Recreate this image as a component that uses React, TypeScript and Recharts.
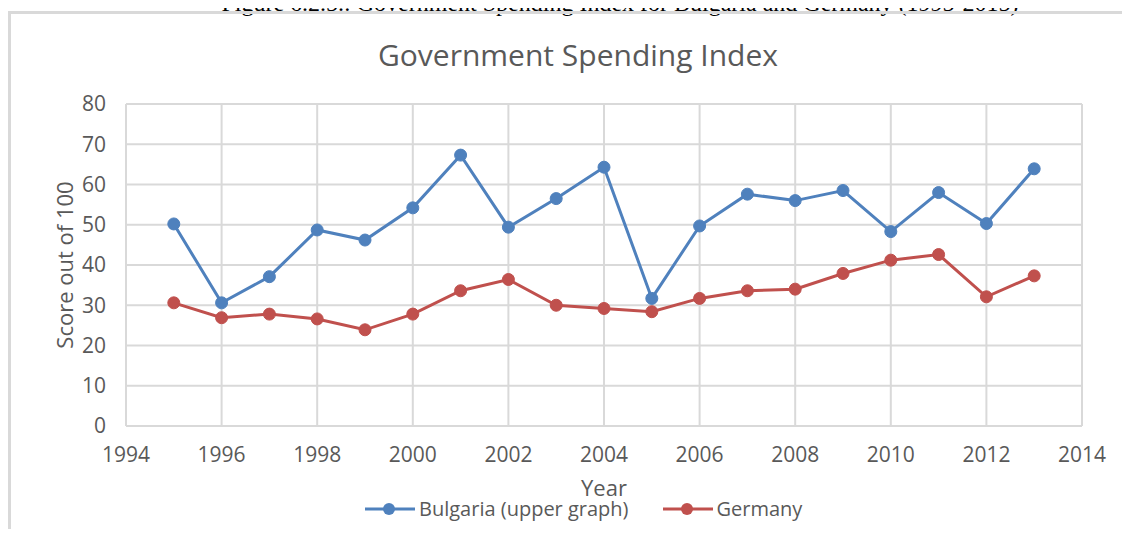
import React from "react";
import { LineChart, Line, XAxis, YAxis, CartesianGrid, Label } from "recharts";

const years = [1995, 1996, 1997, 1998, 1999, 2000, 2001, 2002, 2003, 2004, 2005, 2006, 2007, 2008, 2009, 2010, 2011, 2012, 2013];
const bulgaria = [50.2, 30.6, 37.1, 48.7, 46.2, 54.2, 67.3, 49.4, 56.5, 64.3, 31.7, 49.7, 57.6, 56.0, 58.5, 48.3, 58.0, 50.3, 63.9];
const germany = [30.6, 26.9, 27.8, 26.6, 23.9, 27.8, 33.6, 36.4, 30.0, 29.2, 28.4, 31.7, 33.6, 34.0, 37.9, 41.2, 42.6, 32.1, 37.3];
const xTicks = [1994, 1996, 1998, 2000, 2002, 2004, 2006, 2008, 2010, 2012, 2014];
const yTicks = [0, 10, 20, 30, 40, 50, 60, 70, 80];

const BLUE = "#4F81BD";
const RED = "#C0504D";
const GRID = "#d9d9d9";
const TEXT = "#595959";
const FONT = "'Open Sans', sans-serif";

const data = years.map((y, i) => ({ year: y, bulgaria: bulgaria[i], germany: germany[i] }));

const legendItems = [
  { key: "bulgaria", label: "Bulgaria (upper graph)", color: BLUE },
  { key: "germany", label: "Germany", color: RED },
];

// legend drawn as plain html under the plot (a recharts Legend would shrink the plot area)
const ChartLegend = () => (
  <div style={{ position: "absolute", top: 495, left: 0, display: "flex", alignItems: "center", paddingLeft: 365, fontFamily: FONT, fontSize: 20, color: TEXT }}>
    {legendItems.map((it, i) => (
      <div key={it.key} style={{ display: "flex", alignItems: "center", marginRight: i === 0 ? 34 : 0 }}>
        <svg width={52} height={16} style={{ marginRight: 2 }}>
          <line x1={0} y1={8} x2={50} y2={8} stroke={it.color} strokeWidth={3} />
          <circle cx={24} cy={8} r={6} fill={it.color} />
        </svg>
        <span>{it.label}</span>
      </div>
    ))}
  </div>
);

const YLabel = ({ viewBox }: any) => {
  const cx = viewBox.x - 2;
  const cy = viewBox.y + viewBox.height / 2;
  return (
    <text x={cx} y={cy} transform={`rotate(-90, ${cx}, ${cy})`} textAnchor="middle" dominantBaseline="central"
      fill={TEXT} fontSize={22} fontFamily={FONT}>
      Score out of 100
    </text>
  );
};

export default function App() {
  return (
    <div style={{ position: "relative", width: 1130, height: 537, margin: -8, overflow: "hidden", background: "#fff" }}>
      <div style={{ position: "absolute", top: -10, left: 0, width: 1240, textAlign: "center", fontFamily: "'Liberation Serif', 'Times New Roman', serif", fontSize: 24, lineHeight: "26px", color: "#000", whiteSpace: "nowrap" }}>
        Figure 6.2.5.: Government Spending Index for Bulgaria and Germany (1995-2015)
      </div>
      <div style={{ position: "absolute", top: 11, left: 8, width: 1200, height: 600, borderTop: `3px solid ${GRID}`, borderLeft: `3px solid ${GRID}` }} />
      <div style={{ position: "absolute", top: 34, left: 13, width: 1130, textAlign: "center", fontFamily: FONT, fontSize: 30, color: TEXT }}>
        Government Spending Index
      </div>
      <div style={{ position: "absolute", top: 0, left: 0 }}>
        <LineChart width={1130} height={537} data={data} margin={{ top: 104, right: 48, bottom: 81, left: 66 }}>
          <CartesianGrid stroke={GRID} strokeWidth={2} />
          <XAxis dataKey="year" type="number" domain={[1994, 2014]} ticks={xTicks} height={30}
            axisLine={{ stroke: GRID, strokeWidth: 2 }} tickLine={false} tickSize={0} tickMargin={21}
            tick={{ fill: TEXT, fontSize: 21, fontFamily: FONT }}>
            <Label value="Year" position="bottom" offset={24} fill={TEXT} fontSize={22} fontFamily={FONT} />
          </XAxis>
          <YAxis type="number" domain={[0, 80]} ticks={yTicks} width={60}
            axisLine={{ stroke: GRID, strokeWidth: 2 }} tickLine={false} tickSize={0} tickMargin={20}
            tick={{ fill: TEXT, fontSize: 21, fontFamily: FONT }}>
            <Label content={YLabel} />
          </YAxis>
          <Line type="linear" dataKey="bulgaria" name="Bulgaria (upper graph)" stroke={BLUE} strokeWidth={3}
            dot={{ r: 6, fill: BLUE, stroke: BLUE, strokeWidth: 1 }} isAnimationActive={false} />
          <Line type="linear" dataKey="germany" name="Germany" stroke={RED} strokeWidth={3}
            dot={{ r: 6, fill: RED, stroke: RED, strokeWidth: 1 }} isAnimationActive={false} />
        </LineChart>
      </div>
      <ChartLegend />
    </div>
  );
}
